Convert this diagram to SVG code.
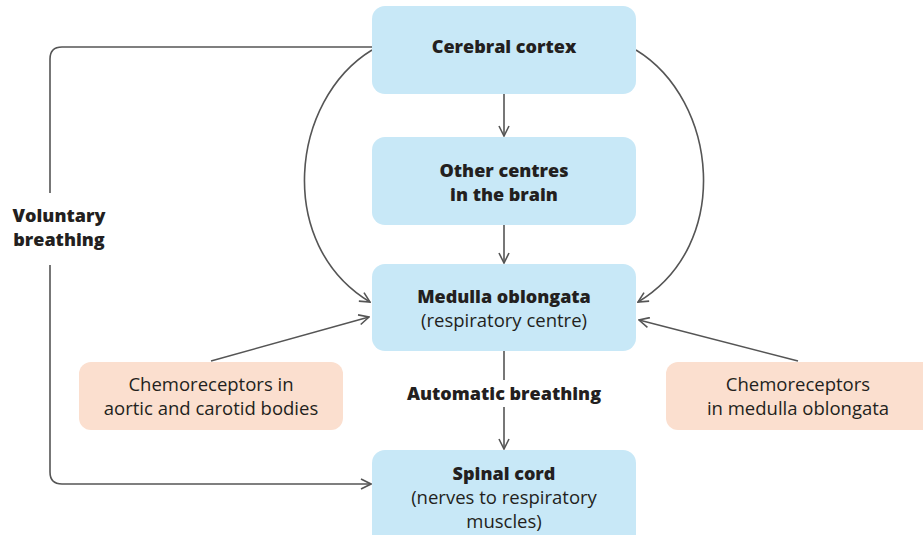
<svg xmlns="http://www.w3.org/2000/svg" width="923" height="535" viewBox="0 0 923 535">
<style>
.blue{fill:#c8e8f7}
.peach{fill:#fbdfcf}
.b{font-family:"Open Sans",Lato,sans-serif;font-weight:800;font-size:18px;fill:#231f20;text-anchor:middle}
.r{font-family:"Open Sans",Lato,sans-serif;font-weight:400;font-size:18.5px;fill:#231f20;text-anchor:middle}
.c{fill:none;stroke:#555;stroke-width:1.6}
</style>
<defs>
<marker id="ah" viewBox="0 0 12 12" refX="11" refY="6" markerWidth="12" markerHeight="12" markerUnits="userSpaceOnUse" orient="auto">
<path d="M1,1 L11,6 L1,11" fill="none" stroke="#555" stroke-width="1.6"/>
</marker>
</defs>
<g id="connectors">
<path class="c" d="M504,94 V136" marker-end="url(#ah)"/>
<path class="c" d="M504,225 V263" marker-end="url(#ah)"/>
<path class="c" d="M504,351 V380"/>
<path class="c" d="M504,407 V449" marker-end="url(#ah)"/>
<path class="c" d="M372,47 H62 Q50,47 50,59 V193"/>
<path class="c" d="M50,265 V472 Q50,484 62,484 H371" marker-end="url(#ah)"/>
<path class="c" d="M372,50 C290,100 275,245 370,302" marker-end="url(#ah)"/>
<path class="c" d="M636,50 C718,100 733,245 638,302" marker-end="url(#ah)"/>
<path class="c" d="M211,361 L369,317" marker-end="url(#ah)"/>
<path class="c" d="M798,361 L639,320" marker-end="url(#ah)"/>
</g>
<g id="cortex">
<rect class="blue" x="372" y="6" width="264" height="88" rx="13"/>
<text class="b" x="504" y="53">Cerebral cortex</text>
</g>
<g id="other">
<rect class="blue" x="372" y="137" width="264" height="88" rx="13"/>
<text class="b" x="504" y="177">Other centres</text>
<text class="b" x="504" y="201">in the brain</text>
</g>
<g id="medulla">
<rect class="blue" x="372" y="264" width="264" height="87" rx="13"/>
<text class="b" x="504" y="303">Medulla oblongata</text>
<text class="r" x="504" y="327">(respiratory centre)</text>
</g>
<g id="spinal">
<rect class="blue" x="372" y="450" width="264" height="100" rx="13"/>
<text class="b" x="504" y="480">Spinal cord</text>
<text class="r" x="504" y="504">(nerves to respiratory</text>
<text class="r" x="504" y="528">muscles)</text>
</g>
<g id="chemo-left">
<rect class="peach" x="79" y="362" width="264" height="68" rx="12"/>
<text class="r" x="211" y="391">Chemoreceptors in</text>
<text class="r" x="211" y="415">aortic and carotid bodies</text>
</g>
<g id="chemo-right">
<rect class="peach" x="666" y="362" width="270" height="68" rx="12"/>
<text class="r" x="798" y="391">Chemoreceptors</text>
<text class="r" x="798" y="415">in medulla oblongata</text>
</g>
<g id="label-voluntary">
<text class="b" x="59" y="222">Voluntary</text>
<text class="b" x="59" y="246">breathing</text>
</g>
<g id="label-automatic">
<text class="b" x="504" y="400">Automatic breathing</text>
</g>
</svg>
